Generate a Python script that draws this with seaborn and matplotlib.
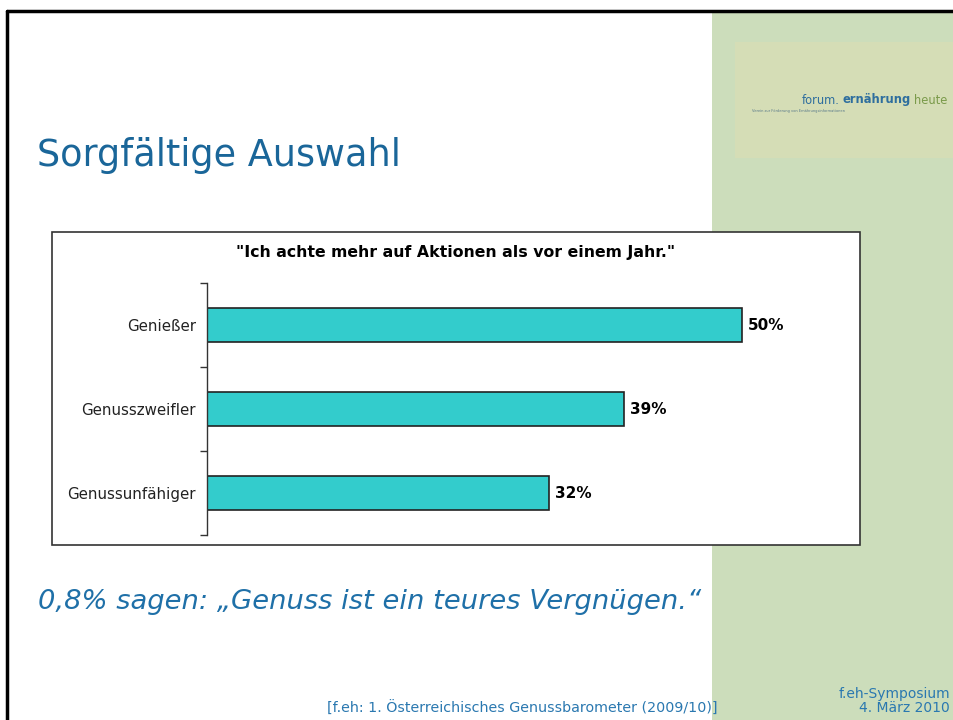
import matplotlib
matplotlib.use("Agg")
import matplotlib.pyplot as plt
import seaborn as sns
import pandas as pd
from matplotlib.patches import Rectangle

categories = ["Genießer", "Genusszweifler", "Genussunfähiger"]
values = [50, 39, 32]
value_labels = ["50%", "39%", "32%"]
chart_title = "\"Ich achte mehr auf Aktionen als vor einem Jahr.\""
slide_title = "Sorgfältige Auswahl"
subtitle = "0,8% sagen: „Genuss ist ein teures Vergnügen.“"
source = "[f.eh: 1. Österreichisches Genussbarometer (2009/10)]"
footer_lines = ["f.eh-Symposium", "4. März 2010"]

sns.set_theme(style="white")
plt.rcParams['font.family'] = ['DejaVu Sans']

W, H = 954, 720
fig = plt.figure(figsize=(W / 100, H / 100), dpi=100)
fig.patch.set_facecolor("white")

def px(x, y):
    return x / W, 1 - y / H

# green side panel
fig.patches.append(Rectangle(px(712, 720), (W - 712) / W, (720 - 12) / H,
                             transform=fig.transFigure, facecolor="#CCDDBB",
                             edgecolor="none", zorder=0))
# logo box
fig.patches.append(Rectangle(px(735, 158), (W - 735) / W, (158 - 42) / H,
                             transform=fig.transFigure, facecolor="#D5DDB6",
                             edgecolor="none", zorder=0))
fig.text(*px(840, 100), "forum.", color="#2E6E9E", fontsize=8.3, ha="right", va="center")
fig.text(*px(843, 100), "ernährung", color="#2E6E9E", fontsize=8.3, ha="left", va="center",
         weight="bold")
fig.text(*px(914, 100), "heute", color="#7A9A4A", fontsize=8.3, ha="left", va="center")
fig.text(*px(752, 111), "Verein zur Förderung von Ernährungsinformationen", color="#5A7A8A",
         fontsize=2.6, ha="left", va="center")

# slide border (top and left)
fig.add_artist(plt.Line2D([7 / W, 1], [1 - 11 / H, 1 - 11 / H], transform=fig.transFigure,
                          color="black", lw=2.5))
fig.add_artist(plt.Line2D([7.5 / W, 7.5 / W], [0, 1 - 11 / H], transform=fig.transFigure,
                          color="black", lw=2.5))

# slide title
fig.text(*px(37, 155), slide_title, color="#1A6699", fontsize=26.4, ha="left", va="center")

# chart box
fig.patches.append(Rectangle(px(52, 545), (860 - 52) / W, (545 - 232) / H,
                             transform=fig.transFigure, facecolor="white",
                             edgecolor="#333333", lw=1.2, zorder=1))
fig.text(*px(456, 253), chart_title, color="black", fontsize=11.3, weight="bold",
         ha="center", va="center", zorder=3)

ax = fig.add_axes([207 / W, (720 - 535) / H, (840 - 207) / W, (535 - 283) / H], zorder=2)
ax.set_facecolor("none")
df = pd.DataFrame({"cat": categories, "val": values})
sns.barplot(data=df, x="val", y="cat", color="#33CCCC", width=0.41,
            edgecolor="#222222", linewidth=1.2, saturation=1, ax=ax)
ax.set_xlim(0, 59.2)
ax.set_ylim(2.5, -0.5)
for i, (v, lab) in enumerate(zip(values, value_labels)):
    ax.text(v + 0.55, i, lab, va="center", ha="left", fontsize=11, weight="bold", color="black")
ax.set_xlabel("")
ax.set_ylabel("")
ax.set_xticks([])
ax.set_yticks([0, 1, 2])
ax.set_yticklabels(categories, fontsize=10.8, color="#222222")
ax.tick_params(axis="y", which="major", left=False, length=0, pad=8)
ax.set_yticks([-0.5, 0.5, 1.5, 2.5], minor=True)
ax.tick_params(axis="y", which="minor", left=True, length=5, width=1, color="#333333",
               direction="out")
for s in ["top", "right", "bottom"]:
    ax.spines[s].set_visible(False)
ax.spines["left"].set_color("#333333")
ax.spines["left"].set_linewidth(1)

# subtitle
fig.text(*px(38, 602), subtitle, color="#1F70A8", fontsize=19.7, style="italic",
         ha="left", va="center")

# source and footer
fig.text(*px(718, 708), source, color="#2A78B0", fontsize=10.3, ha="right", va="center")
fig.text(*px(950, 694), footer_lines[0], color="#2A78B0", fontsize=10, ha="right", va="center")
fig.text(*px(950, 708), footer_lines[1], color="#2A78B0", fontsize=10, ha="right", va="center")

fig.savefig("out.png", dpi=100)
